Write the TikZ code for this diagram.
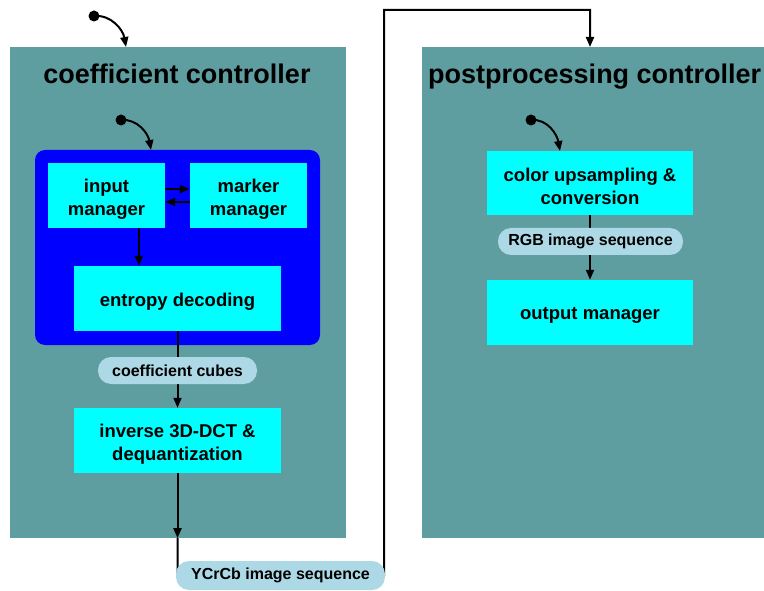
\documentclass[tikz,border=0pt]{standalone}
\usepackage{fontspec}
\setmainfont{Liberation Sans}
\usetikzlibrary{arrows.meta,calc}
\definecolor{panelteal}{HTML}{5F9EA0}
\definecolor{pillblue}{HTML}{ADD8E6}
\definecolor{unitcyan}{HTML}{00FFFF}
\definecolor{coreblue}{HTML}{0000FF}

\begin{document}
\begin{tikzpicture}[x=1pt,y=-1pt,
  panel/.style={fill=panelteal, draw=none, inner sep=0pt},
  core/.style={fill=coreblue, draw=none, rounded corners=10pt, inner sep=0pt},
  unit/.style={fill=unitcyan, draw=none, inner sep=0pt},
  unittext/.style={align=center, inner sep=0pt,
    font=\fontsize{18.5}{23}\selectfont\bfseries},
  pill/.style={fill=pillblue, draw=none, rounded corners=13pt, inner sep=0pt,
    font=\fontsize{16}{19}\selectfont\bfseries},
  heading/.style={inner sep=0pt, font=\fontsize{27}{32}\selectfont\bfseries},
  dot/.style={circle, fill=black, inner sep=0pt, minimum size=11pt},
  flow/.style={line width=2pt, -{Triangle[length=10pt,width=8pt]}}
]
\useasboundingbox (0,0) rectangle (764,591);
\clip (0,0) rectangle (764,591);

% controller panels
\node[panel, minimum width=336pt, minimum height=491pt] (lp) at (178,292.5) {};
\node[panel, minimum width=348pt, minimum height=491pt] (rp) at (596,292.5) {};
\node[heading, anchor=base] (lt) at (177,84) {coefficient controller};
\node[heading, anchor=base west] (rt) at (428,84) {postprocessing controller};

% decoder core
\node[core, minimum width=285pt, minimum height=195pt] (cr) at (177.5,247.5) {};
\node[unit, minimum width=117pt, minimum height=65pt] (im) at (106.5,195.5) {};
\node[unit, minimum width=117pt, minimum height=65pt] (mm) at (248.5,195.5) {};
\node[unit, minimum width=207pt, minimum height=65pt] (ed) at (177.5,298.5) {};
\node[unit, minimum width=207pt, minimum height=65pt] (iq) at (177.5,440.5) {};

% postprocessing units
\node[unit, minimum width=206pt, minimum height=64pt] (cu) at (590,183) {};
\node[unit, minimum width=206pt, minimum height=65pt] (om) at (590,312.5) {};

% unit captions
\node[unittext] (imtx) at ($(im.center)+(0,3.5)$) {input\\manager};
\node[unittext] (mmtx) at ($(mm.center)+(0,3.5)$) {marker\\manager};
\node[unittext] (edtx) at ($(ed.center)+(0,3)$) {entropy decoding};
\node[unittext] (iqtx) at ($(iq.center)+(0,3.5)$) {inverse 3D-DCT \&\\dequantization};
\node[unittext] (cutx) at ($(cu.center)+(0,3.5)$) {color upsampling \&\\conversion};
\node[unittext] (omtx) at ($(om.center)+(0,3)$) {output manager};

% start markers
\node[dot] (d1) at (94,16) {};
\node[dot] (d2) at (121,120) {};
\node[dot] (d3) at (531,120) {};
\coordinate (lpin) at (126,47);
\coordinate (crin) at (151,150);
\coordinate (cuin) at (560,151);
\draw[flow] (d1.center) to[out=5, in=100] (lpin);
\draw[flow] (d2.center) to[out=5, in=100] (crin);
\draw[flow] (d3.center) to[out=5, in=100] (cuin);

% data flow inside the coefficient controller
\draw[flow] ($(im.east)+(0,-6.5)$) -- ($(mm.west)+(0,-6.5)$);
\draw[flow] ($(mm.west)+(0,6.5)$) -- ($(im.east)+(0,6.5)$);
\coordinate (imout) at ($(im.south west)+(91,0)$);
\draw[flow] (imout) -- (imout |- ed.north);
\draw[flow] (ed.south) -- (iq.north);

% image sequence routed to the postprocessing controller
\coordinate (c1) at ($(iq.south)+(0,65)$);
\coordinate (c2) at ($(iq.south)+(0,102)$);
\coordinate (c3) at (384,575);
\coordinate (c4) at (384,10);
\coordinate (c5) at (590,10);
\coordinate (rpin) at (590,47);
\draw[flow] (iq.south) -- (c1);
\draw[flow] (c1) -- (c2) -- (c3) -- (c4) -- (c5) -- (rpin);

\draw[flow] (cu.south) -- (om.north);

% data labels
\node[pill, minimum width=159pt, minimum height=27pt] (cc) at (177.5,370.5) {coefficient cubes};
\node[pill, minimum width=185pt, minimum height=27pt] (rgb) at (590.5,241.5) {RGB image sequence};
\node[pill, minimum width=209pt, minimum height=29pt] (ycc) at (280.5,575.5) {YCrCb image sequence};
\end{tikzpicture}
\end{document}
